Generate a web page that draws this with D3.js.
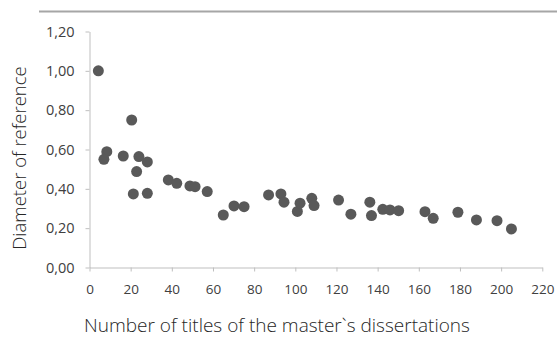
<!DOCTYPE html>
<html><head><meta charset="utf-8">
<script src="https://cdn.jsdelivr.net/npm/d3@7"></script>
<style>
body{margin:0;background:#fff;}
svg{display:block;font-family:"Open Sans",sans-serif;}
</style></head>
<body><svg id="c" width="557" height="338"></svg>
<script>
const titlesX = [4.3,20.5,8.4,7.0,16.4,24.0,28.1,22.9,21.3,28.1,38.3,42.4,48.8,51.3,57.2,65.0,70.2,75.1,87,93,94.5,101,102.3,108,109.1,121,127,136.2,137,142.5,146,150.2,163,167,179,188,198,205];
const diameterY = [1.00,0.75,0.589,0.55,0.567,0.564,0.537,0.488,0.374,0.377,0.445,0.428,0.415,0.411,0.386,0.267,0.313,0.309,0.369,0.374,0.332,0.285,0.327,0.352,0.315,0.343,0.271,0.332,0.264,0.296,0.293,0.289,0.284,0.25,0.281,0.242,0.238,0.196];
const xTicks = [0,20,40,60,80,100,120,140,160,180,200,220];
const yTicks = [0,0.2,0.4,0.6,0.8,1.0,1.2];
const xTitle = "Number of titles of the master`s dissertations";
const yTitle = "Diameter of reference";

const svg = d3.select("#c");
const x = d3.scaleLinear().domain([0,220]).range([89.5,542.3]);
const y = d3.scaleLinear().domain([0,1.2]).range([267.5,31.5]);
const fmt = d => d3.format(".2f")(d).replace(".", ",");

svg.append("line").attr("x1",39).attr("x2",557).attr("y1",11.5).attr("y2",11.5)
  .attr("stroke","#a6a6a6").attr("stroke-width",2);

const gx = svg.append("g").attr("transform",`translate(0,${y(0)})`)
  .call(d3.axisBottom(x).tickValues(xTicks).tickSize(4).tickPadding(13).tickSizeOuter(0));
const gy = svg.append("g").attr("transform",`translate(${x(0)},0)`)
  .call(d3.axisLeft(y).tickValues(yTicks).tickFormat(fmt).tickSize(4).tickPadding(11).tickSizeOuter(0));
[gx,gy].forEach(g=>{
  g.select(".domain").attr("stroke","#bfbfbf");
  g.selectAll(".tick line").attr("stroke","#bfbfbf");
  g.selectAll("text").attr("fill","#404040").attr("font-family","Open Sans");
});
gx.selectAll("text").attr("font-size",13.5);
gy.selectAll("text").attr("font-size",14.5);

svg.append("g").selectAll("circle").data(titlesX.map((d,i)=>[d,diameterY[i]])).join("circle")
  .attr("cx",d=>x(d[0])).attr("cy",d=>y(d[1])).attr("r",5.5).attr("fill","#595959");

svg.append("text").attr("x",277).attr("y",332).attr("text-anchor","middle")
  .attr("font-size",19).attr("font-weight",300).attr("fill","#262626").text(xTitle);
svg.append("text").attr("transform","translate(26,158) rotate(-90)").attr("text-anchor","middle")
  .attr("font-size",18.5).attr("font-weight",300).attr("fill","#262626").text(yTitle);
</script></body></html>
